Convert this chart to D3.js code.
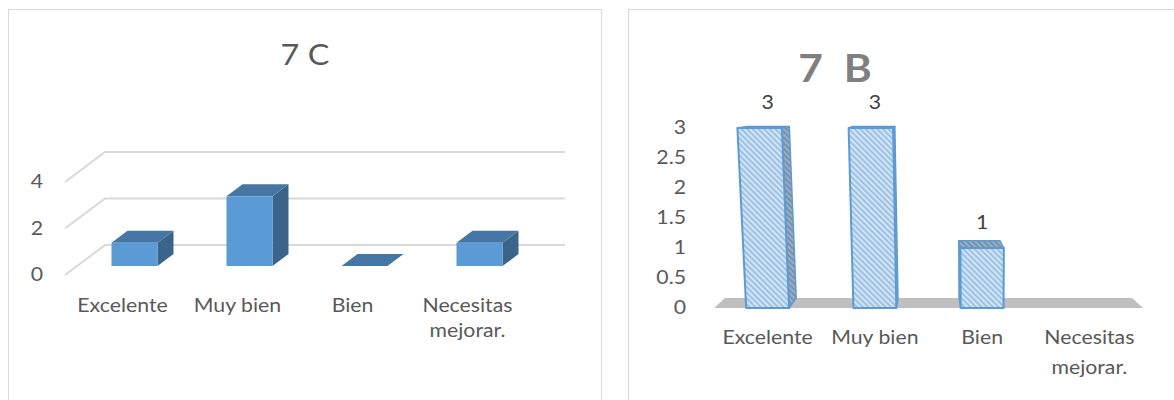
<!DOCTYPE html>
<html>
<head>
<meta charset="utf-8">
<script src="https://cdn.jsdelivr.net/npm/d3@7"></script>
<style>
  html, body { margin: 0; padding: 0; background: #fff; }
  svg { display: block; font-family: Lato, "Open Sans", sans-serif; }
</style>
</head>
<body>
<svg id="chart" width="1174" height="400"></svg>
<script>
// ---- data ----
const categories = ["Excelente", "Muy bien", "Bien", "Necesitas mejorar."];
const categoryLines = [["Excelente"], ["Muy bien"], ["Bien"], ["Necesitas", "mejorar."]];
const valuesC = [1, 3, 0, 1];
const valuesB = [3, 3, 1, 0];
const ticksC = [0, 2, 4];
const ticksB = [0, 0.5, 1, 1.5, 2, 2.5, 3];
const titleC = "7 C";
const titleB = "7  B";

const svg = d3.select("#chart");
const TX = 1.12; // horizontal stretch applied to all text

function addText(g, x, y, txt, o = {}) {
  return g.append("text")
    .attr("transform", `translate(${x},${y}) scale(${TX},1)`)
    .attr("text-anchor", o.anchor || "middle")
    .attr("font-size", o.size || 19)
    .attr("font-weight", o.weight || "normal")
    .attr("fill", o.color || "#595959")
    .style("white-space", "pre")
    .text(txt);
}

// hatch patterns for the 7 B columns
const defs = svg.append("defs");
function hatch(id, bg, fg) {
  const p = defs.append("pattern").attr("id", id)
    .attr("width", 4).attr("height", 4)
    .attr("patternUnits", "userSpaceOnUse")
    .attr("patternTransform", "rotate(-45)");
  p.append("rect").attr("width", 4).attr("height", 4).attr("fill", bg);
  p.append("line").attr("x1", 1).attr("y1", 0).attr("x2", 1).attr("y2", 4)
    .attr("stroke", fg).attr("stroke-width", 1.4);
}
hatch("hatchFront", "#d3e4f4", "#86b3df");
hatch("hatchDark", "#9aaec4", "#6a849f");

// ================= 7 C (left, 3-D columns with oblique depth) =================
{
  const g = svg.append("g");
  g.append("rect").attr("x", 8.5).attr("y", 9.5).attr("width", 593).attr("height", 420)
    .attr("fill", "none").attr("stroke", "#d9d9d9");

  addText(g, 305, 65, titleC, { size: 29 });

  const x = d3.scaleBand().domain(categories).range([65, 525]);
  const y = d3.scaleLinear().domain([0, 4]).range([275, 182]);
  const DX = 40, DY = -30;
  const pt = (px, v, d) => [px + DX * d, y(v) + DY * d];
  const line = d3.line();

  // floor / back-wall gridlines
  ticksC.forEach(t => {
    g.append("path")
      .attr("d", line([pt(x.range()[0], t, 0), pt(x.range()[0], t, 1), pt(x.range()[1], t, 1)]))
      .attr("fill", "none").attr("stroke", "#d9d9d9").attr("stroke-width", 2);
    addText(g, 43, y(t) + 6, String(t), { anchor: "end" });
  });

  const bw = x.bandwidth();
  const d0 = 0.3, d1 = 0.7;
  categories.forEach((c, i) => {
    const v = valuesC[i];
    const x0 = x(c) + bw * 0.3, x1 = x0 + bw * 0.4;
    const poly = pts => "M" + pts.map(p => p.join(",")).join("L") + "Z";
    if (v > 0) {
      g.append("path").attr("d", poly([pt(x1, 0, d0), pt(x1, v, d0), pt(x1, v, d1), pt(x1, 0, d1)]))
        .attr("fill", "#3a6489");
    }
    g.append("path").attr("d", poly([pt(x0, v, d0), pt(x1, v, d0), pt(x1, v, d1), pt(x0, v, d1)]))
      .attr("fill", "#4676a3");
    if (v > 0) {
      g.append("path").attr("d", poly([pt(x0, 0, d0), pt(x1, 0, d0), pt(x1, v, d0), pt(x0, v, d0)]))
        .attr("fill", "#5b9bd5");
    }
    categoryLines[i].forEach((ln, k) =>
      addText(g, x(c) + bw / 2, 312 + k * 25, ln));
  });
}

// ================= 7 B (right, 3-D columns in perspective) =================
{
  const g = svg.append("g");
  g.append("rect").attr("x", 628.5).attr("y", 9.5).attr("width", 600).attr("height", 420)
    .attr("fill", "none").attr("stroke", "#d9d9d9");

  addText(g, 835, 82, titleB, { size: 38, weight: "bold", color: "#7f7f7f" });

  const x = d3.scaleBand().domain(categories).range([714, 1143]);
  const y = d3.scaleLinear().domain([0, 3]).range([308, 128]);
  const vpX = 929, depthK = 0.051;      // horizontal vanishing of depth
  const eyeH = 212, riseK = 0.047;      // vertical rise of depth edges
  const leanX = 983, leanL = 4860;      // convergence of vertical edges
  const P = (px, v, d) => {
    const h = y(0) - y(v);
    const xd = px + (vpX - px) * depthK * d;
    const rise = Math.max(0, riseK * (eyeH - h));
    return [xd + (xd - leanX) * h / leanL, y(v) - rise * d];
  };
  const poly = pts => "M" + pts.map(p => p.join(",")).join("L") + "Z";

  // floor
  const [fx0, fx1] = x.range();
  g.append("path").attr("d", poly([P(fx0, 0, 0), P(fx1, 0, 0), P(fx1, 0, 1), P(fx0, 0, 1)]))
    .attr("fill", "#bfbfbf");

  ticksB.forEach(t => addText(g, 686, y(t) + 6, String(t), { anchor: "end" }));

  const bw = x.bandwidth();
  categories.forEach((c, i) => {
    const v = valuesB[i];
    const x0 = x(c) + bw * 0.3, x1 = x0 + bw * 0.4;
    if (v > 0) {
      const face = (pts, fill, sw) => g.append("path").attr("d", poly(pts))
        .attr("fill", fill).attr("stroke", "#5b9bd5").attr("stroke-width", sw)
        .attr("stroke-linejoin", "round");
      if (x1 < vpX) {
        face([P(x1, 0, 0), P(x1, v, 0), P(x1, v, 1), P(x1, 0, 1)], "url(#hatchDark)", 1.5);
      } else if (x0 > vpX) {
        face([P(x0, 0, 0), P(x0, v, 0), P(x0, v, 1), P(x0, 0, 1)], "url(#hatchDark)", 1.5);
      }
      face([P(x0, v, 0), P(x1, v, 0), P(x1, v, 1), P(x0, v, 1)], "url(#hatchDark)", 1.5);
      face([P(x0, 0, 0), P(x1, 0, 0), P(x1, v, 0), P(x0, v, 0)], "url(#hatchFront)", 2);
      addText(g, x(c) + bw / 2, y(v) - 19, String(v), { color: "#404040" });
    }
    categoryLines[i].forEach((ln, k) =>
      addText(g, x(c) + bw / 2, 344 + k * 30, ln));
  });
}
</script>
</body>
</html>
